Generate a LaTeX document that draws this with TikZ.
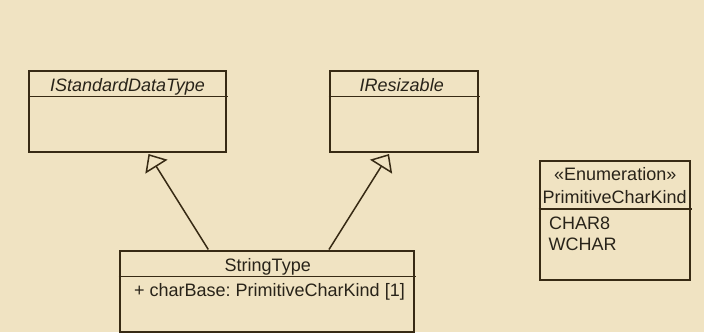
\documentclass[tikz,border=0pt]{standalone}
\usepackage{fontspec}
\setmainfont{Liberation Sans}
\usetikzlibrary{arrows.meta,calc}
\definecolor{bg}{RGB}{240,227,194}
\definecolor{ln}{RGB}{55,42,20}
\definecolor{tx}{RGB}{40,35,25}
\frenchspacing
\begin{document}
\begin{tikzpicture}[x=1pt,y=-1pt,
  font=\fontsize{18}{21}\selectfont,
  classbox/.style={draw=ln, line width=2pt, rectangle, inner sep=0pt, anchor=north west},
  divider/.style={draw=ln, line width=1.8pt},
  txt/.style={text=tx, inner sep=0pt},
  gen/.style={draw=ln, line width=1.5pt, -{Triangle[open,length=15pt,width=26pt,fill=bg,line width=1.5pt]}}]
\fill[bg] (0,0) rectangle (704,332);
\useasboundingbox (0,0) rectangle (704,332);

% boxes
\node[classbox, minimum width=197pt, minimum height=81pt] (isdt) at (28,70) {};
\node[classbox, minimum width=148.5pt, minimum height=81pt] (ires) at (328.5,70) {};
\node[classbox, minimum width=294.5pt, minimum height=81pt] (st) at (118.5,249.5) {};
\node[classbox, minimum width=150.5pt, minimum height=119.8pt] (en) at (538.5,159.5) {};

% dividers
\draw[divider] ($(isdt.north west)+(0,26.5)$) -- ($(isdt.north east)+(1,26.5)$);
\draw[divider] ($(ires.north west)+(0,26.5)$) -- ($(ires.north east)+(1,26.5)$);
\draw[divider] ($(st.north west)+(0,27)$) -- ($(st.north east)+(1,27)$);
\draw[divider] ($(en.north west)+(0,49.8)$) -- ($(en.north east)+(1,49.8)$);

% texts
\node[txt, anchor=base, font=\fontsize{18}{21}\selectfont\itshape] (isdtT) at ($(isdt.north)+(0,21.7)$) {IStandardDataType};
\node[txt, anchor=base, font=\fontsize{18}{21}\selectfont\itshape] (iresT) at ($(ires.north)+(-2,21.7)$) {IResizable};
\node[txt, anchor=base] (stT) at ($(st.north)+(1,22)$) {StringType};
\node[txt, anchor=base west] (stA) at ($(st.north west)+(15.5,47.2)$) {+ charBase: PrimitiveCharKind [1]};
\node[txt, anchor=base] (enS) at ($(en.north)+(0.5,21.2)$) {«Enumeration»};
\node[txt, anchor=base] (enT) at ($(en.north)+(0,43.8)$) {PrimitiveCharKind};
\node[txt, anchor=base west] (enA) at ($(en.north west)+(10.5,69.8)$) {CHAR8};
\node[txt, anchor=base west] (enB) at ($(en.north west)+(10,90.5)$) {WCHAR};

% generalizations
\coordinate (s1) at ($(st.north west)+(89.8,0)$);
\coordinate (t1) at ($(isdt.south west)+(120.5,1)$);
\coordinate (s2) at ($(st.north west)+(210.5,0)$);
\coordinate (t2) at ($(ires.south west)+(60.5,1)$);
\draw[gen] (s1) -- (t1);
\draw[gen] (s2) -- (t2);
\end{tikzpicture}
\end{document}
